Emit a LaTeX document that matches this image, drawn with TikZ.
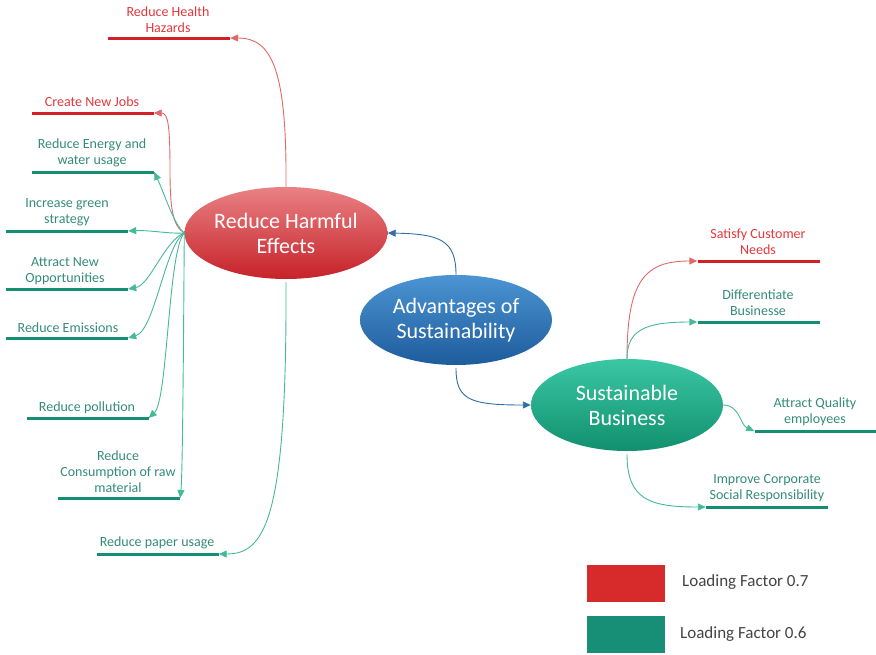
\documentclass[tikz,border=0pt]{standalone}
\usepackage{fontspec}
\setmainfont{Carlito}
\usetikzlibrary{shapes.geometric,arrows.meta}

\definecolor{redTxt}{HTML}{E4373C}
\definecolor{redBar}{HTML}{D32027}
\definecolor{redLink}{HTML}{E0686A}
\definecolor{tealTxt}{HTML}{348C77}
\definecolor{tealBar}{HTML}{148F72}
\definecolor{tealLink}{HTML}{45B99B}
\definecolor{blueLink}{HTML}{2F6EA8}
\definecolor{rheTop}{HTML}{E98184}
\definecolor{rheBot}{HTML}{C62229}
\definecolor{advTop}{HTML}{4B94D3}
\definecolor{advBot}{HTML}{1E5C9C}
\definecolor{sbTop}{HTML}{3BC7A4}
\definecolor{sbBot}{HTML}{11906F}
\definecolor{keyRed}{HTML}{D62A2B}
\definecolor{keyTeal}{HTML}{178F76}
\definecolor{keyTxt}{HTML}{444444}

\begin{document}
\begin{tikzpicture}[x=1pt,y=-1pt,
  hub/.style={ellipse, minimum width=192pt, minimum height=92pt, inner sep=0pt,
    text=white, align=center, font=\fontsize{22}{25}\selectfont},
  uline/.style={fill=#1, minimum width=122pt, minimum height=3pt, inner sep=0pt},
  lbl/.style={text=#1, align=center, inner sep=0pt, font=\fontsize{14}{16}\selectfont},
  link/.style={draw=#1, line width=0.9pt, -{Triangle[length=8pt,width=7pt]}},
  keybox/.style={fill=#1, minimum width=78pt, minimum height=37pt, inner sep=0pt},
  keytxt/.style={text=keyTxt, anchor=west, inner sep=0pt, font=\fontsize{17}{20}\selectfont},
]
\path[use as bounding box] (0,0) rectangle (876,654);

% central ellipses
\node[hub, top color=rheTop, bottom color=rheBot] (rhe) at (286,233) {Reduce Harmful\\Effects};
\node[hub, top color=advTop, bottom color=advBot, minimum height=90pt] (adv) at (456,320) {Advantages of\\Sustainability};
\node[hub, top color=sbTop, bottom color=sbBot] (sb) at (627,405) {Sustainable\\Business};

% underlines of the left branches
\node[uline=redBar]  (hhU)  at (169,38)  {};
\node[uline=redBar]  (cnjU) at (92.5,113) {};
\node[uline=tealBar] (enU)  at (93,172)  {};
\node[uline=tealBar] (grU)  at (67,231)  {};
\node[uline=tealBar] (opU)  at (67,289)  {};
\node[uline=tealBar] (emU)  at (67,338)  {};
\node[uline=tealBar] (poU)  at (87.5,418) {};
\node[uline=tealBar] (rawU) at (119,498) {};
\node[uline=tealBar] (papU) at (157.5,554) {};

% underlines of the right branches
\node[uline=redBar]  (satU) at (758.5,261) {};
\node[uline=tealBar] (difU) at (758.5,322) {};
\node[uline=tealBar] (aqU)  at (815.5,431) {};
\node[uline=tealBar] (csrU) at (767,507)  {};

% branch labels
\node[lbl=redTxt]  (hh)  at (168,20)  {Reduce Health\\Hazards};
\node[lbl=redTxt]  (cnj) at (92,102)  {Create New Jobs};
\node[lbl=tealTxt] (en)  at (92,153)  {Reduce Energy and\\water usage};
\node[lbl=tealTxt] (gr)  at (67,212)  {Increase green\\strategy};
\node[lbl=tealTxt] (op)  at (65,271)  {Attract New\\Opportunities};
\node[lbl=tealTxt] (em)  at (68,328)  {Reduce Emissions};
\node[lbl=tealTxt] (po)  at (87,408)  {Reduce pollution};
\node[lbl=tealTxt] (raw) at (118,472) {Reduce\\Consumption of raw\\material};
\node[lbl=tealTxt] (pap) at (157,543) {Reduce paper usage};
\node[lbl=redTxt]  (sat) at (758,242) {Satisfy Customer\\Needs};
\node[lbl=tealTxt] (dif) at (758,303) {Differentiate\\Businesse};
\node[lbl=tealTxt] (aq)  at (815,412) {Attract Quality\\employees};
\node[lbl=tealTxt] (csr) at (767,488) {Improve Corporate\\Social Responsibility};

% connectors from the centre
\draw[link=blueLink] (adv.north) .. controls (456,240) and (440,234) .. (rhe.east);
\draw[link=blueLink] ([yshift=-3pt]adv.south) .. controls (456,400) and (470,405) .. (sb.west);

% left branches
\draw[link=redLink] (rhe.north) .. controls (287,70) and (272,38) .. (hhU.east);
\draw[link=redLink] (rhe.west) .. controls (172,226) and (170,205) .. (170,170)
  .. controls (170,125) and (168,113) .. (cnjU.east);
\draw[link=tealLink] (rhe.west) .. controls (174,225) and (165,195) .. (enU.east);
\draw[link=tealLink] (rhe.west) .. controls (170,234) and (150,230) .. (grU.east);
\draw[link=tealLink] (rhe.west) .. controls (165,240) and (150,285) .. (opU.east);
\draw[link=tealLink] (rhe.west) .. controls (165,245) and (155,330) .. (emU.east);
\draw[link=tealLink] (rhe.west) .. controls (168,250) and (168,400) .. (poU.east);
\draw[link=tealLink] (rhe.west) .. controls (184,260) and (183,470) .. (rawU.east);
\draw[link=tealLink] ([yshift=-3pt]rhe.south) .. controls (287,520) and (265,554) .. (papU.east);

% right branches
\draw[link=redLink] (sb.north) .. controls (627,280) and (645,261) .. (satU.west);
\draw[link=tealLink] (sb.north) .. controls (627,330) and (645,322) .. (difU.west);
\draw[link=tealLink] (sb.east) .. controls (740,405) and (740,425) .. (aqU.west);
\draw[link=tealLink] ([yshift=-3pt]sb.south) .. controls (627,500) and (650,507) .. (csrU.west);

% key
\node[keybox=keyRed]  (k1) at (626,583.5) {};
\node[keybox=keyTeal] (k2) at (626,634)   {};
\node[keytxt] (k1t) at (682,582) {Loading Factor 0.7};
\node[keytxt] (k2t) at (680,634) {Loading Factor 0.6};
\end{tikzpicture}
\end{document}
